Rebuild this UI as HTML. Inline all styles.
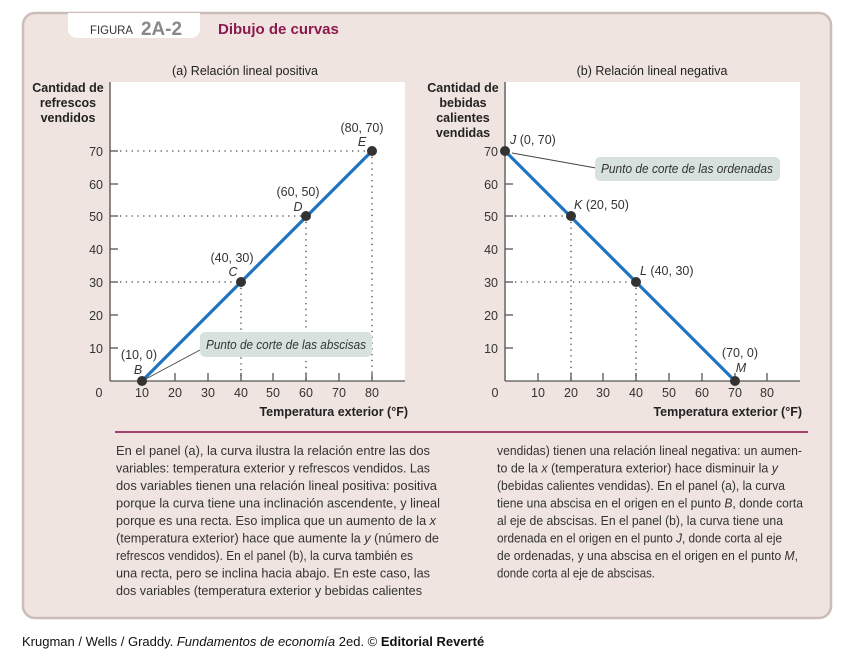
<!DOCTYPE html>
<html><head><meta charset="utf-8"><style>
html,body{margin:0;padding:0;background:#fff;width:848px;height:662px;overflow:hidden}
svg{display:block;font-family:"Liberation Sans",sans-serif}
</style></head><body>
<svg width="848" height="662" viewBox="0 0 848 662">
<rect x="23" y="13" width="808" height="605" rx="12" fill="#efe4df" stroke="#cbbdb7" stroke-width="2.5"/>
<path d="M68 13 H200 V28 Q200 38 190 38 H78 Q68 38 68 28 Z" fill="#fff"/>
<text x="90" y="34" font-size="12" fill="#333" textLength="43" lengthAdjust="spacingAndGlyphs">FIGURA</text>
<text x="141" y="35" font-size="19" fill="#888" font-weight="bold" textLength="41" lengthAdjust="spacingAndGlyphs">2A-2</text>
<text x="218" y="34" font-size="15" fill="#8b1a50" font-weight="bold">Dibujo de curvas</text>

<!-- Panel a -->
<rect x="111" y="82" width="294" height="299" fill="#fff"/>
<text x="245" y="75" font-size="12.5" text-anchor="middle" fill="#222">(a) Relación lineal positiva</text>
<g font-size="12.5" font-weight="bold" text-anchor="middle" fill="#222">
<text x="68" y="92">Cantidad de</text><text x="68" y="107">refrescos</text><text x="68" y="122">vendidos</text>
<text x="408" y="416" text-anchor="end">Temperatura exterior (°F)</text>
</g>
<g stroke="#555" stroke-width="1.3">
<line x1="110" y1="82" x2="110" y2="381"/><line x1="110" y1="381" x2="405" y2="381"/>
<line x1="110" y1="348" x2="118" y2="348"/><line x1="110" y1="315" x2="118" y2="315"/><line x1="110" y1="282" x2="118" y2="282"/><line x1="110" y1="249" x2="118" y2="249"/><line x1="110" y1="216" x2="118" y2="216"/><line x1="110" y1="184" x2="118" y2="184"/><line x1="110" y1="151" x2="118" y2="151"/>
<line x1="175" y1="381" x2="175" y2="373"/><line x1="208" y1="381" x2="208" y2="373"/><line x1="241" y1="381" x2="241" y2="373"/><line x1="273" y1="381" x2="273" y2="373"/><line x1="306" y1="381" x2="306" y2="373"/><line x1="339" y1="381" x2="339" y2="373"/><line x1="372" y1="381" x2="372" y2="373"/>
</g>
<g fill="#333" font-size="12.5" text-anchor="end">
<text x="103" y="353">10</text><text x="103" y="320">20</text><text x="103" y="287">30</text><text x="103" y="254">40</text><text x="103" y="221">50</text><text x="103" y="189">60</text><text x="103" y="156">70</text>
</g>
<g fill="#333" font-size="12.5" text-anchor="middle">
<text x="99" y="397">0</text><text x="142" y="397">10</text><text x="175" y="397">20</text><text x="208" y="397">30</text><text x="241" y="397">40</text><text x="273" y="397">50</text><text x="306" y="397">60</text><text x="339" y="397">70</text><text x="372" y="397">80</text>
</g>
<g stroke="#444" stroke-width="1.3" stroke-dasharray="1.3 4.5">
<line x1="120" y1="151" x2="372" y2="151"/><line x1="372" y1="151" x2="372" y2="381"/>
<line x1="120" y1="216" x2="306" y2="216"/><line x1="306" y1="216" x2="306" y2="381"/>
<line x1="120" y1="282" x2="241" y2="282"/><line x1="241" y1="282" x2="241" y2="381"/>
</g>
<line x1="142" y1="381" x2="200" y2="350" stroke="#444" stroke-width="0.9"/>
<line x1="142" y1="381" x2="372" y2="151" stroke="#1f74c1" stroke-width="3.2"/>
<g fill="#333"><circle cx="142" cy="381" r="5"/><circle cx="241" cy="282" r="5"/><circle cx="306" cy="216" r="5"/><circle cx="372" cy="151" r="5"/></g>
<rect x="200" y="332" width="172" height="25" rx="5" fill="#d7e2de"/>
<g font-size="12.5" fill="#333" text-anchor="middle">
<text x="286" y="349" font-style="italic" textLength="160" lengthAdjust="spacingAndGlyphs">Punto de corte de las abscisas</text>
<text x="362" y="132">(80, 70)</text><text x="362" y="146" font-style="italic">E</text>
<text x="298" y="196">(60, 50)</text><text x="298" y="211" font-style="italic">D</text>
<text x="232" y="262">(40, 30)</text><text x="233" y="276" font-style="italic">C</text>
<text x="139" y="359">(10, 0)</text><text x="138" y="374" font-style="italic">B</text>
</g>

<!-- Panel b -->
<rect x="506" y="82" width="294" height="299" fill="#fff"/>
<text x="652" y="75" font-size="12.5" text-anchor="middle" fill="#222">(b) Relación lineal negativa</text>
<g font-size="12.5" font-weight="bold" text-anchor="middle" fill="#222">
<text x="463" y="92">Cantidad de</text><text x="463" y="107">bebidas</text><text x="463" y="122">calientes</text><text x="463" y="137">vendidas</text>
<text x="802" y="416" text-anchor="end">Temperatura exterior (°F)</text>
</g>
<g stroke="#555" stroke-width="1.3">
<line x1="505" y1="82" x2="505" y2="381"/><line x1="505" y1="381" x2="800" y2="381"/>
<line x1="505" y1="348" x2="513" y2="348"/><line x1="505" y1="315" x2="513" y2="315"/><line x1="505" y1="282" x2="513" y2="282"/><line x1="505" y1="249" x2="513" y2="249"/><line x1="505" y1="216" x2="513" y2="216"/><line x1="505" y1="184" x2="513" y2="184"/>
<line x1="538" y1="381" x2="538" y2="373"/><line x1="571" y1="381" x2="571" y2="373"/><line x1="603" y1="381" x2="603" y2="373"/><line x1="636" y1="381" x2="636" y2="373"/><line x1="669" y1="381" x2="669" y2="373"/><line x1="702" y1="381" x2="702" y2="373"/><line x1="735" y1="381" x2="735" y2="373"/><line x1="767" y1="381" x2="767" y2="373"/>
</g>
<g fill="#333" font-size="12.5" text-anchor="end">
<text x="498" y="353">10</text><text x="498" y="320">20</text><text x="498" y="287">30</text><text x="498" y="254">40</text><text x="498" y="221">50</text><text x="498" y="189">60</text><text x="498" y="156">70</text>
</g>
<g fill="#333" font-size="12.5" text-anchor="middle">
<text x="495" y="397">0</text><text x="538" y="397">10</text><text x="571" y="397">20</text><text x="603" y="397">30</text><text x="636" y="397">40</text><text x="669" y="397">50</text><text x="702" y="397">60</text><text x="735" y="397">70</text><text x="767" y="397">80</text>
</g>
<g stroke="#444" stroke-width="1.3" stroke-dasharray="1.3 4.5">
<line x1="515" y1="216" x2="571" y2="216"/><line x1="571" y1="216" x2="571" y2="381"/>
<line x1="515" y1="282" x2="636" y2="282"/><line x1="636" y1="282" x2="636" y2="381"/>
</g>
<line x1="512" y1="153" x2="596" y2="168" stroke="#444" stroke-width="0.9"/>
<line x1="505" y1="151" x2="735" y2="381" stroke="#1f74c1" stroke-width="3.2"/>
<g fill="#333"><circle cx="505" cy="151" r="5"/><circle cx="571" cy="216" r="5"/><circle cx="636" cy="282" r="5"/><circle cx="735" cy="381" r="5"/></g>
<rect x="595" y="157" width="185" height="24" rx="5" fill="#d7e2de"/>
<g font-size="12.5" fill="#333">
<text x="687" y="173" font-style="italic" text-anchor="middle" textLength="172" lengthAdjust="spacingAndGlyphs">Punto de corte de las ordenadas</text>
<text x="510" y="144"><tspan font-style="italic">J</tspan> (0, 70)</text>
<text x="574" y="209"><tspan font-style="italic">K</tspan> (20, 50)</text>
<text x="640" y="275"><tspan font-style="italic">L</tspan> (40, 30)</text>
<text x="740" y="357" text-anchor="middle">(70, 0)</text><text x="741" y="372" font-style="italic" text-anchor="middle">M</text>
</g>

<line x1="115" y1="432" x2="808" y2="432" stroke="#a8406f" stroke-width="2"/>
<g font-size="13" fill="#333">
<text x="116" y="455" textLength="314" lengthAdjust="spacingAndGlyphs">En el panel (a), la curva ilustra la relación entre las dos</text>
<text x="116" y="472.5" textLength="314" lengthAdjust="spacingAndGlyphs">variables: temperatura exterior y refrescos vendidos. Las</text>
<text x="116" y="490" textLength="321" lengthAdjust="spacingAndGlyphs">dos variables tienen una relación lineal positiva: positiva</text>
<text x="116" y="507.5" textLength="324" lengthAdjust="spacingAndGlyphs">porque la curva tiene una inclinación ascendente, y lineal</text>
<text x="116" y="525" textLength="320" lengthAdjust="spacingAndGlyphs">porque es una recta. Eso implica que un aumento de la <tspan font-style="italic">x</tspan></text>
<text x="116" y="542.5" textLength="323" lengthAdjust="spacingAndGlyphs">(temperatura exterior) hace que aumente la <tspan font-style="italic">y</tspan> (número de</text>
<text x="116" y="560" textLength="297" lengthAdjust="spacingAndGlyphs">refrescos vendidos). En el panel (b), la curva también es</text>
<text x="116" y="577.5" textLength="314" lengthAdjust="spacingAndGlyphs">una recta, pero se inclina hacia abajo. En este caso, las</text>
<text x="116" y="595" textLength="306" lengthAdjust="spacingAndGlyphs">dos variables (temperatura exterior y bebidas calientes</text>
<text x="497" y="455" textLength="305" lengthAdjust="spacingAndGlyphs">vendidas) tienen una relación lineal negativa: un aumen-</text>
<text x="497" y="472.5" textLength="281" lengthAdjust="spacingAndGlyphs">to de la <tspan font-style="italic">x</tspan> (temperatura exterior) hace disminuir la <tspan font-style="italic">y</tspan></text>
<text x="497" y="490" textLength="288" lengthAdjust="spacingAndGlyphs">(bebidas calientes vendidas). En el panel (a), la curva</text>
<text x="497" y="507.5" textLength="306" lengthAdjust="spacingAndGlyphs">tiene una abscisa en el origen en el punto <tspan font-style="italic">B</tspan>, donde corta</text>
<text x="497" y="525" textLength="286" lengthAdjust="spacingAndGlyphs">al eje de abscisas. En el panel (b), la curva tiene una</text>
<text x="497" y="542.5" textLength="285" lengthAdjust="spacingAndGlyphs">ordenada en el origen en el punto <tspan font-style="italic">J</tspan>, donde corta al eje</text>
<text x="497" y="560" textLength="301" lengthAdjust="spacingAndGlyphs">de ordenadas, y una abscisa en el origen en el punto <tspan font-style="italic">M</tspan>,</text>
<text x="497" y="577.5" textLength="158" lengthAdjust="spacingAndGlyphs">donde corta al eje de abscisas.</text>
</g>
<text x="22" y="646" font-size="13" fill="#111">Krugman / Wells / Graddy. <tspan font-style="italic">Fundamentos de economía</tspan> 2ed. © <tspan font-weight="bold">Editorial Reverté</tspan></text>
</svg>
</body></html>
